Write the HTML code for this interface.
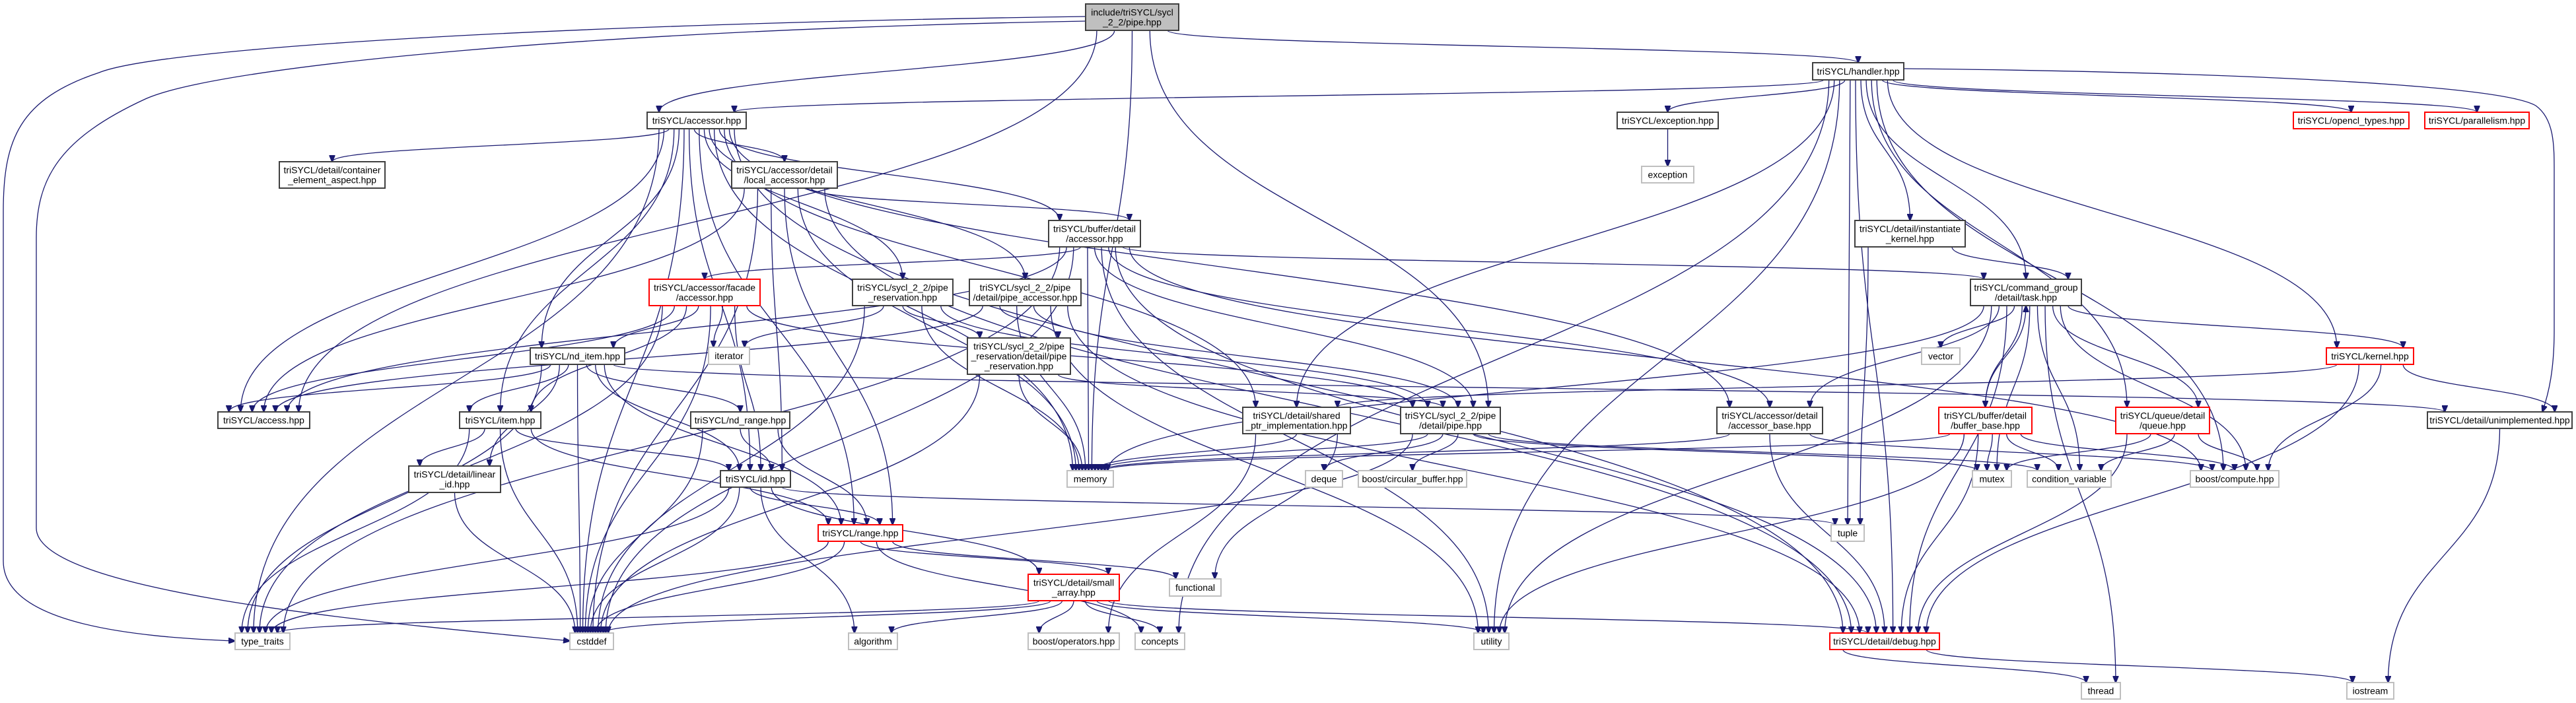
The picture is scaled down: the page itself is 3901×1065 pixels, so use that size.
<!DOCTYPE html>
<html><head><meta charset="utf-8">
<style>
html,body{margin:0;padding:0;background:#fff;}
svg{display:block;}
text{font-family:"Liberation Sans",Arial,sans-serif;font-size:14px;fill:#000;}
</style></head>
<body>
<svg id="g" xmlns="http://www.w3.org/2000/svg" width="3901" height="1065" viewBox="0 0 3901 1065">
<defs>
<marker id="ah" markerUnits="userSpaceOnUse" markerWidth="11" markerHeight="9" refX="10" refY="4.5" orient="auto">
<path d="M0,0 L11,4.5 L0,9 z" fill="#191970" stroke="#191970"/>
</marker>
</defs>
<rect width="3901" height="1065" fill="#fff"/>
<g id="edges"></g>
<g id="nodes"></g>
</svg>
<script>
var N={
P:[1644,6,1785,46,'f',['include/triSYCL/sycl','_2_2/pipe.hpp']],
H:[2745,95,2883,121,'b',['triSYCL/handler.hpp']],
A:[980,170,1130,195,'b',['triSYCL/accessor.hpp']],
EX:[2449,170,2602,195,'b',['triSYCL/exception.hpp']],
OT:[3473,170,3648,195,'r',['triSYCL/opencl_types.hpp']],
PA:[3672,170,3830,195,'r',['triSYCL/parallelism.hpp']],
EXC:[2486,252,2565,277,'g',['exception']],
CE:[423,245,583,285,'b',['triSYCL/detail/container','_element_aspect.hpp']],
LA:[1108,245,1268,285,'b',['triSYCL/accessor/detail','/local_accessor.hpp']],
BA:[1588,334,1727,374,'b',['triSYCL/buffer/detail','/accessor.hpp']],
IK:[2809,334,2976,374,'b',['triSYCL/detail/instantiate','_kernel.hpp']],
FA:[983,423,1151,463,'r',['triSYCL/accessor/facade','/accessor.hpp']],
PR:[1291,423,1443,463,'b',['triSYCL/sycl_2_2/pipe','_reservation.hpp']],
PAC:[1468,423,1637,463,'b',['triSYCL/sycl_2_2/pipe','/detail/pipe_accessor.hpp']],
T:[2984,423,3152,463,'b',['triSYCL/command_group','/detail/task.hpp']],
IT:[1073,526,1135,552,'g',['iterator']],
V:[2910,527,2968,552,'g',['vector']],
K:[3523,527,3655,552,'r',['triSYCL/kernel.hpp']],
NI:[803,527,946,552,'b',['triSYCL/nd_item.hpp']],
PRD:[1465,512,1621,567,'b',['triSYCL/sycl_2_2/pipe','_reservation/detail/pipe','_reservation.hpp']],
AC:[330,624,469,649,'b',['triSYCL/access.hpp']],
SP:[1882,617,2045,657,'b',['triSYCL/detail/shared','_ptr_implementation.hpp']],
PD:[2121,617,2272,657,'b',['triSYCL/sycl_2_2/pipe','/detail/pipe.hpp']],
AB:[2600,617,2760,657,'b',['triSYCL/accessor/detail','/accessor_base.hpp']],
BB:[2936,617,3077,657,'r',['triSYCL/buffer/detail','/buffer_base.hpp']],
Q:[3204,617,3346,657,'r',['triSYCL/queue/detail','/queue.hpp']],
U:[3676,624,3895,649,'b',['triSYCL/detail/unimplemented.hpp']],
IM:[696,624,819,649,'b',['triSYCL/item.hpp']],
NR:[1046,624,1196,649,'b',['triSYCL/nd_range.hpp']],
LI:[619,706,758,746,'b',['triSYCL/detail/linear','_id.hpp']],
ID:[1091,713,1197,738,'b',['triSYCL/id.hpp']],
MEM:[1616,713,1686,738,'g',['memory']],
DQ:[1977,713,2033,738,'g',['deque']],
CB:[2057,713,2221,738,'g',['boost/circular_buffer.hpp']],
MU:[2987,713,3046,738,'g',['mutex']],
CV:[3070,713,3197,738,'g',['condition_variable']],
BC:[3317,713,3451,738,'g',['boost/compute.hpp']],
R:[1239,795,1367,820,'r',['triSYCL/range.hpp']],
TU:[2773,795,2823,820,'g',['tuple']],
SA:[1557,870,1695,910,'r',['triSYCL/detail/small','_array.hpp']],
FN:[1771,877,1849,903,'g',['functional']],
TT:[356,959,439,984,'g',['type_traits']],
CS:[863,959,929,984,'g',['cstddef']],
AL:[1285,959,1359,984,'g',['algorithm']],
BO:[1557,959,1695,984,'g',['boost/operators.hpp']],
CO:[1719,959,1794,984,'g',['concepts']],
UT:[2232,959,2285,984,'g',['utility']],
DB:[2771,959,2937,984,'r',['triSYCL/detail/debug.hpp']],
TH:[3152,1034,3211,1059,'g',['thread']],
IO:[3554,1034,3625,1059,'g',['iostream']]
};
var E={
P:['H','A','AC','MEM','PD'],
H:['A','EX','OT','PA','IK','T','K','Q','BC','TU','UT','CO','DB','SP'],
A:['CE','LA','BA','PR','PAC','NI','IM','ID','R','AC','TT','CS','SP','DB','AB','MEM'],
EX:['EXC'],
LA:['BA','AC','R','CS','DB','MEM','ID'],
BA:['FA','AC','T','TT','CS','MEM','UT','DB','BC','AB','PD'],
IK:['T','TU'],
FA:['AC','IT','ID','NI','IM','TT','CS','PD'],
PR:['PRD','IT','MEM','CS','PD'],
PAC:['PRD','AC','MEM','PD','UT','DB'],
T:['V','K','BB','Q','MU','CV','BC','DB','TH','MEM','AB','UT'],
BB:['T','MU','CV','BC','DB','UT','MEM'],
K:['SP','U','BC','DB'],
Q:['MU','CV','BC','DB'],
NI:['AC','IM','LI','NR','ID','R','CS','U','TT'],
PRD:['MEM','CS','PD'],
SP:['MEM','FN','BO'],
PD:['DQ','CB','MEM','MU','CV','CS'],
AB:['DB','MEM','BC'],
IM:['LI','ID','R','CS','TT'],
LI:['CS'],
NR:['ID','R','CS'],
ID:['R','SA','TU','AL','CS','TT'],
R:['SA','FN','CO','TT','CS'],
SA:['AL','BO','CO','UT','DB','CS','TT'],
DB:['TH','IO'],
U:['IO']
};
var EXTRA=[
'M1644,25 C900,35 250,70 150,110 C30,150 5,210 5,320 L5,850 C5,945 200,965 356,971',
'M1644,32 C900,45 330,100 220,150 C90,210 55,270 55,360 L55,800 C55,900 600,945 863,971',
'M2883,104 C3300,108 3780,125 3840,160 C3868,180 3868,220 3868,260 L3868,500 C3868,560 3860,595 3850,624'
];
var NS='http://www.w3.org/2000/svg';
function cx(n){return (N[n][0]+N[n][2])/2;}
var edges=[];
for(var s in E){E[s].forEach(function(t){edges.push([s,t]);});}
var outB={},inT={},outT={},inB={};
edges.forEach(function(e){
  var s=N[e[0]],t=N[e[1]];
  if(t[1]>=s[3]-2){(outB[e[0]]=outB[e[0]]||[]).push(e);(inT[e[1]]=inT[e[1]]||[]).push(e);e.dir=1;}
  else {(outT[e[0]]=outT[e[0]]||[]).push(e);(inB[e[1]]=inB[e[1]]||[]).push(e);e.dir=-1;}
});
function spread(map,key,other){
  for(var n in map){
    var arr=map[n];
    arr.sort(function(a,b){return cx(a[other])-cx(b[other]);});
    var b=N[n],w=b[2]-b[0],m=w*0.12;
    arr.forEach(function(e,i){
      var x=arr.length==1?(b[0]+b[2])/2:b[0]+m+(w-2*m)*i/(arr.length-1);
      e[key]=x;
    });
  }
}
spread(outB,'sx',1);spread(inT,'tx',0);spread(outT,'sx',1);spread(inB,'tx',0);
var eg=document.getElementById('edges');
function addPath(d){
  var p=document.createElementNS(NS,'path');
  p.setAttribute('d',d);p.setAttribute('fill','none');
  p.setAttribute('stroke','#191970');p.setAttribute('stroke-width','1.3');
  p.setAttribute('marker-end','url(#ah)');
  eg.appendChild(p);
}
edges.forEach(function(e){
  var s=N[e[0]],t=N[e[1]],sx=e.sx,tx=e.tx,sy,ty;
  if(e.dir==1){sy=s[3];ty=t[1];}else{sy=s[1];ty=t[3];}
  var dy=ty-sy;
  addPath('M'+sx+','+sy+' C'+sx+','+(sy+dy*0.5)+' '+tx+','+(ty-dy*0.5)+' '+tx+','+ty);
});
EXTRA.forEach(addPath);
var ng=document.getElementById('nodes');
for(var n in N){
  var b=N[n],st=b[4];
  var r=document.createElementNS(NS,'rect');
  r.setAttribute('x',b[0]);r.setAttribute('y',b[1]);
  r.setAttribute('width',b[2]-b[0]);r.setAttribute('height',b[3]-b[1]);
  r.setAttribute('fill',st=='f'?'#bfbfbf':'#ffffff');
  r.setAttribute('stroke',st=='r'?'#ff0000':(st=='g'?'#bfbfbf':'#404040'));
  r.setAttribute('stroke-width','2');
  ng.appendChild(r);
  var L=b[5],h=b[3]-b[1],lh=15,y0=b[1]+h/2-(L.length-1)*lh/2+5;
  L.forEach(function(s,i){
    var t=document.createElementNS(NS,'text');
    t.setAttribute('x',(b[0]+b[2])/2);t.setAttribute('y',y0+i*lh);
    t.setAttribute('text-anchor','middle');
    t.textContent=s;ng.appendChild(t);
  });
}
</script>
</body></html>
